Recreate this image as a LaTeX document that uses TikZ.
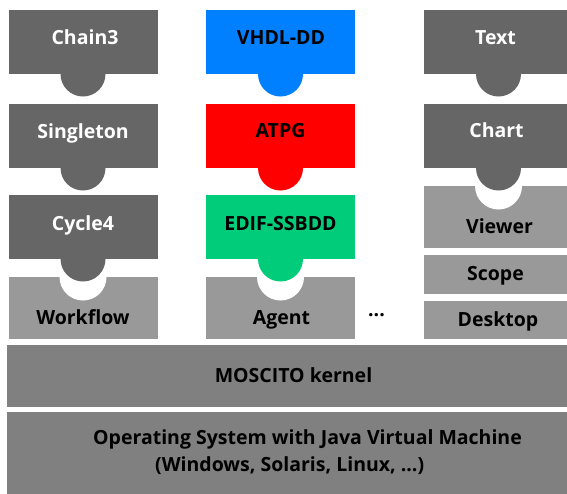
\documentclass[tikz,border=0pt]{standalone}
\usepackage{fontspec}
\setmainfont{Open Sans}
\definecolor{plugdark}{HTML}{666666}
\definecolor{pluglight}{HTML}{999999}
\definecolor{layergray}{HTML}{808080}
\definecolor{plugblue}{HTML}{0080FF}
\definecolor{plugred}{HTML}{FF0000}
\definecolor{pluggreen}{HTML}{00CC7A}
\begin{document}
\begin{tikzpicture}[x=1pt,y=-1pt,
  lbl/.style={anchor=base,inner sep=0pt,font=\fontsize{19.5}{24}\selectfont\bfseries},
  wlbl/.style={lbl,text=white},
  slab/.style={inner sep=0pt,outer sep=0pt,draw=none}]
\useasboundingbox (0,0) rectangle (567,493);
\clip (0,0) rectangle (567,493);

% ---- base layers ----
\fill[layergray] (7,345) rectangle (575,407);
\fill[layergray] (7,412) rectangle (575,500);
\node[lbl] (kernel) at (293.5,382) {MOSCITO kernel};
\node[lbl,anchor=base west] (os1) at (93,444) {Operating System with Java Virtual Machine};
\node[lbl,anchor=base west] (os2) at (155,471) {(Windows, Solaris, Linux, ...)};

% ---- frameworks with sockets ----
\fill[pluglight] (8.5,277) rectangle (157.5,339);
\fill[white] (83,277) circle[radius=23.5];
\node[lbl] (workflow) at (83,324) {Workflow};

\fill[pluglight] (206,277) rectangle (355,339);
\fill[white] (280.5,277) circle[radius=23.5];
\node[lbl] (agent) at (281.5,324) {Agent};

\node[lbl] (more) at (376.5,316) {...};

\fill[pluglight] (424,186) rectangle (575,248);
\fill[white] (498.5,186) circle[radius=23.5];
\node[lbl] (viewer) at (499.5,233) {Viewer};

\fill[pluglight] (424,255) rectangle (575,294);
\node[lbl] (scope) at (495.5,280) {Scope};
\fill[pluglight] (424,301) rectangle (575,339);
\node[lbl] (desktop) at (498,326) {Desktop};

% ---- plug-ins with tabs ----
% left column
\fill[plugdark] (8.5,10) rectangle (157.5,74);
\fill[plugdark] (83,74) circle[radius=22.5];
\node[wlbl] (chain) at (85,44) {Chain3};
\fill[plugdark] (8.5,104) rectangle (157.5,168);
\fill[plugdark] (83,168) circle[radius=22.5];
\node[wlbl] (singleton) at (83,138) {Singleton};
\fill[plugdark] (8.5,195) rectangle (157.5,259);
\fill[plugdark] (83,259) circle[radius=22.5];
\node[wlbl] (cycle) at (83,230) {Cycle4};

% middle column
\fill[plugblue] (206,10) rectangle (355,74);
\fill[plugblue] (280.5,74) circle[radius=22.5];
\node[lbl] (vhdl) at (281,44) {VHDL-DD};
\fill[plugred] (206,104) rectangle (355,168);
\fill[plugred] (280.5,168) circle[radius=22.5];
\node[lbl] (atpg) at (280.5,137.5) {ATPG};
\fill[pluggreen] (206,195) rectangle (355,259);
\fill[pluggreen] (280.5,259) circle[radius=22.5];
\node[lbl] (edif) at (280.5,230) {EDIF-SSBDD};

% right column
\fill[plugdark] (424,10) rectangle (575,74);
\fill[plugdark] (498.5,74) circle[radius=22.5];
\node[wlbl] (text) at (495.5,44) {Text};
\fill[plugdark] (424,104) rectangle (575,168);
\fill[plugdark] (498.5,168) circle[radius=22.5];
\node[wlbl] (chart) at (496.5,137.7) {Chart};
\end{tikzpicture}
\end{document}
